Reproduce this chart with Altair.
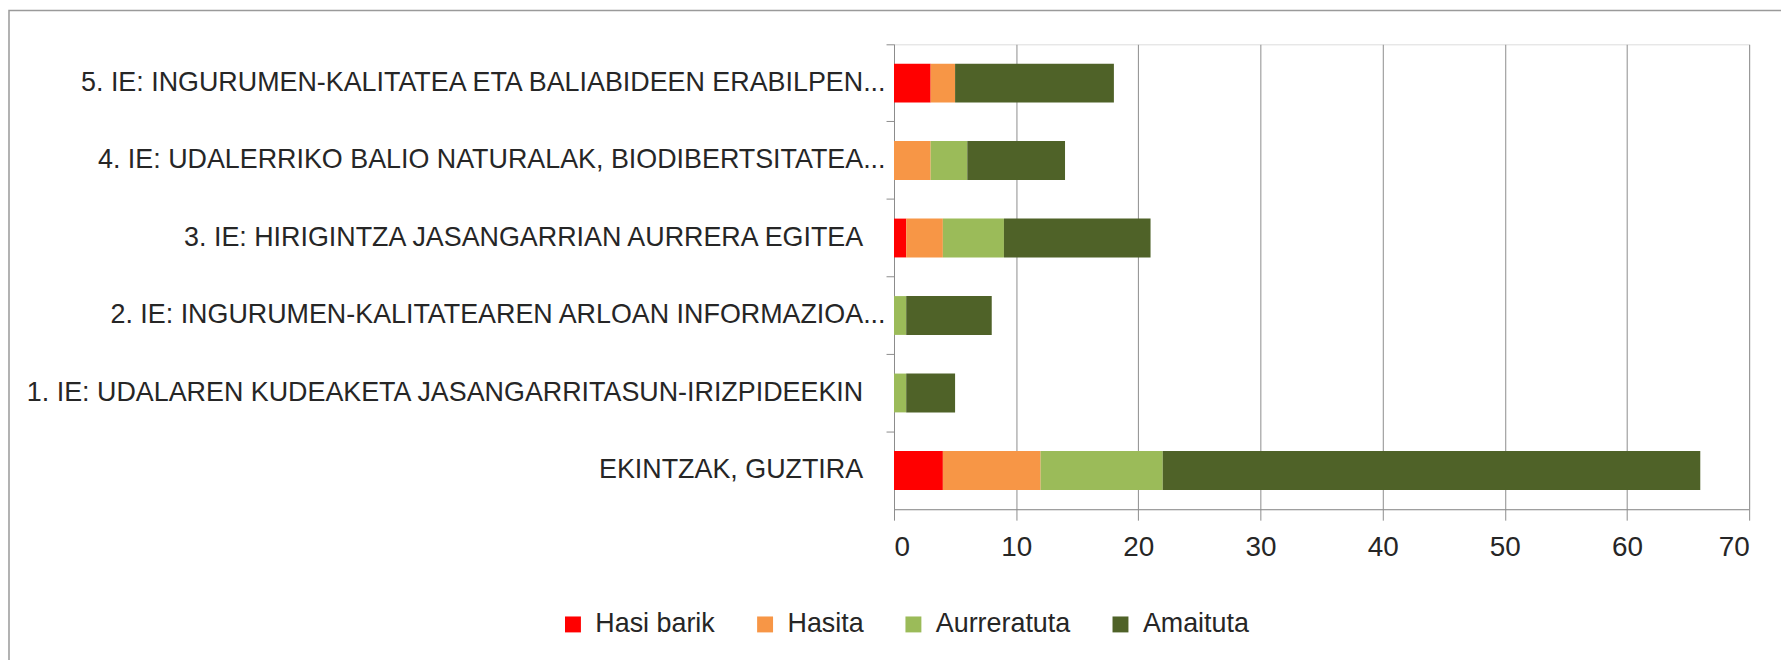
import altair as alt
import pandas as pd

categories = [
    "5. IE: INGURUMEN-KALITATEA ETA BALIABIDEEN ERABILPEN...",
    "4. IE: UDALERRIKO BALIO NATURALAK, BIODIBERTSITATEA...",
    "3. IE: HIRIGINTZA JASANGARRIAN AURRERA EGITEA",
    "2. IE: INGURUMEN-KALITATEAREN ARLOAN INFORMAZIOA...",
    "1. IE: UDALAREN KUDEAKETA JASANGARRITASUN-IRIZPIDEEKIN",
    "EKINTZAK, GUZTIRA",
]
series = ["Hasi barik", "Hasita", "Aurreratuta", "Amaituta"]
hasi_barik = [3, 0, 1, 0, 0, 4]
hasita = [2, 3, 3, 0, 0, 8]
aurreratuta = [0, 3, 5, 1, 1, 10]
amaituta = [13, 8, 12, 7, 4, 44]
colors = ["#FF0000", "#F79646", "#9BBB59", "#4F6228"]
x_ticks = [0, 10, 20, 30, 40, 50, 60, 70]

rows = []
for k, (name, vals) in enumerate(zip(series, [hasi_barik, hasita, aurreratuta, amaituta])):
    for cat, v in zip(categories, vals):
        rows.append({"cat": cat, "serie": name, "value": v, "k": k})
df = pd.DataFrame(rows)

FONT = "Liberation Sans"
W, H = 859, 467
PAD_L = 890

bars = alt.Chart(df).mark_bar(size=39).encode(
    y=alt.Y(
        "cat:N",
        sort=categories,
        title=None,
        scale=alt.Scale(paddingInner=0, paddingOuter=0),
        axis=alt.Axis(
            bandPosition=0,
            tickSize=8,
            labelPadding=1,
            labelFontSize=27,
            labelFont=FONT,
            labelColor="#262626",
            labelLimit=2000,
            domainColor="#8c8c8c",
            tickColor="#8c8c8c",
            labelExpr="slice(datum.label, -3) == '...' ? datum.label : datum.label + '\u00a0\u00a0\u00a0\u200b'",
        ),
    ),
    x=alt.X(
        "value:Q",
        stack="zero",
        title=None,
        scale=alt.Scale(domain=[0, 70], nice=False),
        axis=alt.Axis(
            values=x_ticks,
            grid=True,
            gridColor="#8c8c8c",
            gridWidth=1,
            domainColor="#8c8c8c",
            tickColor="#8c8c8c",
            tickSize=11,
            labelPadding=14,
            labelFontSize=28,
            labelFont=FONT,
            labelColor="#262626",
        ),
    ),
    color=alt.Color(
        "serie:N",
        scale=alt.Scale(domain=series, range=colors),
        legend=alt.Legend(
            title=None,
            orient="none",
            direction="horizontal",
            legendX=-336,
            legendY=569,
            symbolType="square",
            symbolSize=256,
            symbolStrokeWidth=0,
            labelFontSize=27,
            labelFont=FONT,
            labelColor="#262626",
            labelOffset=9,
            columnPadding=36,
            labelLimit=500,
            padding=0,
        ),
    ),
    order=alt.Order("k:Q", sort="ascending"),
)

border = alt.Chart(alt.Data(values=[{"a": 1}])).mark_rect(
    filled=False, stroke="#9a9a9a", strokeWidth=1.5
).encode(
    x=alt.value(-(PAD_L - 1)), x2=alt.value(1200), y=alt.value(-34), y2=alt.value(900)
)

chart = alt.layer(border, bars).properties(
    width=W,
    height=H,
    autosize=alt.AutoSizeParams(type="none"),
    padding={"left": PAD_L, "top": 35, "right": 1789 - 8 - PAD_L - W, "bottom": 150},
).configure_view(stroke=None).configure(background="white")

chart.save("out.html", embed_options={"renderer": "svg", "actions": False})
